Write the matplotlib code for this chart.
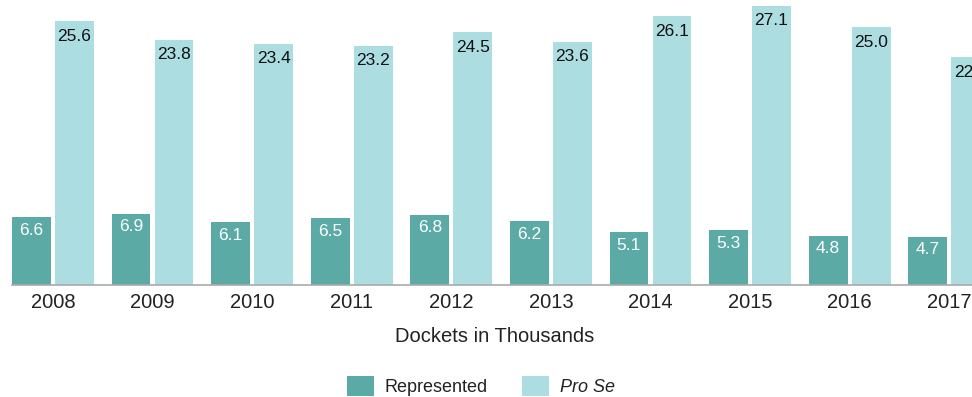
import matplotlib
matplotlib.use("Agg")
import matplotlib.pyplot as plt
import numpy as np

# Docket counts in thousands
years = ['2008', '2009', '2010', '2011', '2012', '2013', '2014', '2015', '2016', '2017']
represented = [6.6, 6.9, 6.1, 6.5, 6.8, 6.2, 5.1, 5.3, 4.8, 4.7]
pro_se = [25.6, 23.8, 23.4, 23.2, 24.5, 23.6, 26.1, 27.1, 25.0, 22.1]

c_rep = '#5BAAA6'
c_pro = '#ACDDE1'

plt.rcParams['font.family'] = ['Liberation Sans', 'DejaVu Sans']

fig = plt.figure(figsize=(9.72, 3.97), dpi=100)
ax = fig.add_axes([12 / 972, 112 / 397, 960 / 972, 285 / 397])

x = np.arange(len(years))
w = 0.39
off = 0.216
b1 = ax.bar(x - off, represented, w, color=c_rep, label='Represented')
b2 = ax.bar(x + off, pro_se, w, color=c_pro, label='Pro Se')

# value labels just inside the top of each bar
for rect, v in zip(b1, represented):
    ax.annotate(f'{v:.1f}', (rect.get_x() + rect.get_width() / 2, v),
                xytext=(0, -4), textcoords='offset points', ha='center', va='top',
                fontsize=12.5, color='white')
for rect, v in zip(b2, pro_se):
    ax.annotate(f'{v:.1f}', (rect.get_x() + rect.get_width() / 2, v),
                xytext=(0, -5.5), textcoords='offset points', ha='center', va='top',
                fontsize=12.5, color='#111111')

ax.set_xlim(-0.41, -0.41 + 960 / 99.6)
ax.set_ylim(0, 27.64)
ax.set_xticks(x)
ax.set_xticklabels(years, fontsize=14.5, color='#222222')
ax.tick_params(axis='x', length=0, pad=6)
ax.set_yticks([])
for s in ['top', 'right', 'left']:
    ax.spines[s].set_visible(False)
ax.spines['bottom'].set_color('#aaaaaa')
ax.spines['bottom'].set_linewidth(1.2)

fig.text(495 / 972, 1 - 336 / 397, 'Dockets in Thousands', ha='center', va='center',
         fontsize=14.5, color='#222222')

leg = fig.legend(handles=[b1, b2], labels=['Represented', 'Pro Se'],
                 loc='center', bbox_to_anchor=(481 / 972, 1 - 386 / 397), ncol=2,
                 frameon=False, fontsize=13, handlelength=1.5, handleheight=1.3,
                 columnspacing=1.9, handletextpad=0.6)
leg.get_texts()[1].set_style('italic')
for t in leg.get_texts():
    t.set_color('#222222')

fig.savefig('out.png', dpi=100, facecolor='white')
